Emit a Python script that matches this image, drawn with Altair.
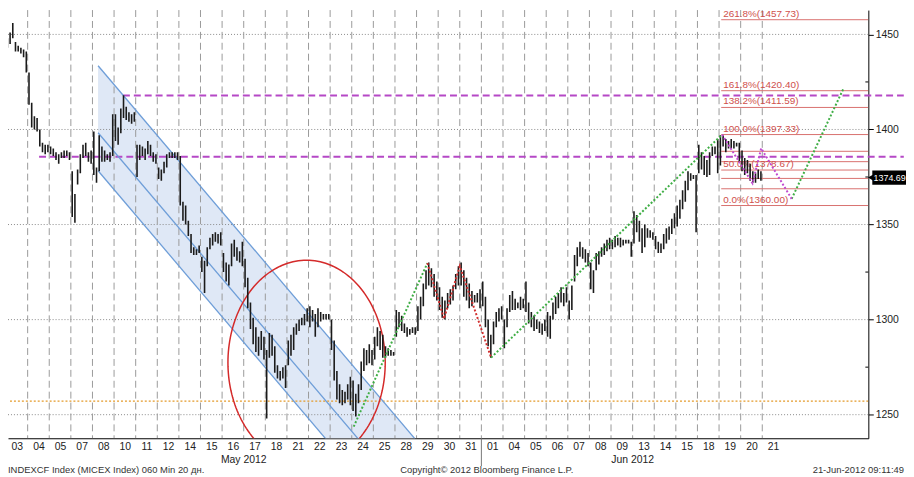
import math
import altair as alt
import pandas as pd

FONT = "Liberation Sans"

# ---------------- data ----------------
day_labels = ["03", "04", "05", "07", "08", "10", "11", "12", "14", "15", "16", "17", "18",
              "21", "22", "23", "24", "25", "28", "29", "30", "31",
              "01", "04", "05", "06", "07", "08", "09", "13", "14", "15", "18", "19", "20", "21"]
bars_per_day = 8

bar_low = [
    1443, 1445, 1448, 1441, 1441, 1440, 1438, 1430,   # May 03
    1413, 1401, 1400, 1399, 1391, 1388, 1387, 1388,   # May 04
    1387, 1386, 1384, 1382, 1385, 1385, 1386, 1384,   # May 05
    1354, 1351, 1371, 1377, 1385, 1386, 1383, 1382,   # May 07
    1376, 1372, 1378, 1383, 1383, 1384, 1383, 1386,   # May 08
    1394, 1392, 1398, 1406, 1405, 1404, 1403, 1404,   # May 10
    1375, 1384, 1386, 1384, 1387, 1386, 1383, 1382,   # May 11
    1374, 1373, 1377, 1380, 1385, 1385, 1385, 1384,   # May 12
    1360, 1352, 1350, 1344, 1335, 1334, 1334, 1335,   # May 14
    1325, 1314, 1328, 1337, 1339, 1341, 1340, 1339,   # May 15
    1325, 1320, 1318, 1328, 1333, 1331, 1330, 1328,   # May 16
    1317, 1306, 1295, 1287, 1283, 1281, 1284, 1279,   # May 17
    1248, 1280, 1281, 1272, 1269, 1268, 1269, 1264,   # May 18
    1276, 1281, 1284, 1292, 1294, 1297, 1297, 1299,   # May 21
    1296, 1299, 1291, 1296, 1299, 1300, 1300, 1300,   # May 22
    1284, 1268, 1258, 1256, 1255, 1256, 1258, 1255,   # May 23
    1252, 1249, 1256, 1263, 1273, 1276, 1277, 1276,   # May 24
    1279, 1286, 1284, 1280, 1280, 1281, 1281, 1281,   # May 25
    1291, 1296, 1294, 1293, 1291, 1292, 1293, 1292,   # May 28
    1294, 1300, 1307, 1316, 1318, 1317, 1312, 1310,   # May 29
    1305, 1301, 1300, 1306, 1308, 1310, 1316, 1318,   # May 30
    1318, 1312, 1310, 1306, 1307, 1309, 1309, 1306,   # May 31
    1307, 1296, 1286, 1280, 1287, 1296, 1299, 1300,   # Jun 01
    1285, 1296, 1304, 1305, 1305, 1306, 1305, 1306,   # Jun 04
    1304, 1298, 1296, 1294, 1295, 1293, 1292, 1294,   # Jun 05
    1291, 1290, 1300, 1303, 1306, 1309, 1307, 1309,   # Jun 06
    1300, 1305, 1320, 1328, 1333, 1332, 1330, 1328,   # Jun 07
    1316, 1314, 1326, 1329, 1333, 1334, 1336, 1337,   # Jun 08
    1337, 1338, 1339, 1338, 1339, 1340, 1340, 1333,   # Jun 09
    1340, 1346, 1341, 1335, 1338, 1343, 1343, 1342,   # Jun 13
    1337, 1335, 1335, 1337, 1340, 1342, 1345, 1348,   # Jun 14
    1349, 1353, 1358, 1362, 1368, 1373, 1374, 1346,   # Jun 15
    1377, 1379, 1376, 1375, 1376, 1386, 1387, 1377,   # Jun 18
    1381, 1391, 1388, 1390, 1390, 1390, 1391, 1383,   # Jun 19
    1378, 1376, 1377, 1373, 1372, 1372, 1374, 1373,   # Jun 20
]
bar_high = [
    1448, 1451, 1456, 1446, 1444, 1443, 1442, 1441,   # May 03
    1430, 1414, 1407, 1406, 1400, 1393, 1392, 1392,   # May 04
    1391, 1390, 1388, 1387, 1388, 1389, 1389, 1388,   # May 05
    1378, 1366, 1379, 1387, 1392, 1393, 1388, 1389,   # May 07
    1399, 1380, 1397, 1391, 1389, 1387, 1388, 1408,   # May 08
    1408, 1401, 1411, 1418, 1412, 1409, 1408, 1409,   # May 10
    1392, 1392, 1391, 1390, 1394, 1392, 1388, 1387,   # May 11
    1380, 1379, 1383, 1387, 1388, 1388, 1388, 1388,   # May 12
    1386, 1362, 1360, 1352, 1345, 1338, 1337, 1339,   # May 14
    1333, 1331, 1338, 1343, 1345, 1346, 1345, 1346,   # May 15
    1335, 1330, 1329, 1340, 1342, 1338, 1336, 1341,   # May 16
    1332, 1322, 1309, 1301, 1296, 1291, 1294, 1291,   # May 17
    1284, 1293, 1292, 1286, 1276, 1273, 1275, 1276,   # May 18
    1289, 1292, 1296, 1298, 1300, 1301, 1303, 1306,   # May 21
    1307, 1305, 1303, 1306, 1304, 1303, 1303, 1303,   # May 22
    1300, 1289, 1273, 1266, 1263, 1262, 1266, 1270,   # May 23
    1268, 1261, 1266, 1278, 1285, 1284, 1287, 1284,   # May 24
    1291, 1296, 1294, 1292, 1286, 1285, 1284, 1283,   # May 25
    1305, 1304, 1302, 1298, 1296, 1295, 1296, 1296,   # May 28
    1307, 1312, 1319, 1326, 1330, 1327, 1324, 1320,   # May 29
    1317, 1312, 1310, 1314, 1316, 1318, 1324, 1328,   # May 30
    1330, 1326, 1322, 1319, 1315, 1313, 1314, 1316,   # May 31
    1320, 1312, 1300, 1292, 1299, 1304, 1306, 1307,   # Jun 01
    1300, 1306, 1313, 1315, 1311, 1309, 1312, 1311,   # Jun 04
    1320, 1309, 1304, 1302, 1300, 1299, 1298, 1300,   # Jun 05
    1304, 1302, 1309, 1312, 1314, 1317, 1314, 1317,   # Jun 06
    1310, 1318, 1334, 1338, 1341, 1338, 1337, 1335,   # Jun 07
    1330, 1326, 1335, 1336, 1338, 1340, 1342, 1343,   # Jun 08
    1342, 1344, 1343, 1343, 1342, 1342, 1342, 1341,   # Jun 09
    1357, 1355, 1352, 1348, 1350, 1348, 1347, 1346,   # Jun 13
    1344, 1341, 1340, 1345, 1348, 1349, 1353, 1356,   # Jun 14
    1360, 1363, 1368, 1373, 1378, 1377, 1376, 1376,   # Jun 15
    1392, 1388, 1386, 1384, 1388, 1391, 1391, 1395,   # Jun 18
    1397, 1397, 1395, 1394, 1395, 1394, 1393, 1393,   # Jun 19
    1389, 1385, 1384, 1382, 1378, 1377, 1379, 1378,   # Jun 20
]
last_price = 1374.69

y_ticks = [1250, 1300, 1350, 1400, 1450]
y_minor = [1275, 1325, 1375, 1425]

# Fibonacci levels (0% = 1360.00, 100% = 1397.33)
fib_values = [1360.00, 1368.81, 1374.26, 1378.67, 1383.07, 1388.52, 1397.33, 1411.59, 1420.40, 1457.73]
fib_labels = ["0.0%(1360.00)", "", "", "50.0%(1378.67)", "", "", "100.0%(1397.33)",
              "138.2%(1411.59)", "161.8%(1420.40)", "261.8%(1457.73)"]
fib_start = 33.1

# horizontal annotation lines
purple_levels = [1417.9, 1385.7]
purple_starts = [5.41, 1.53]
purple_end = 41.55
orange_level = 1257.1

# descending channel (x in trading days, y in index points)
channel_t = [4.26, 18.95]
channel_upper = [1433.5, 1237.0]
channel_mid = [1398.3, 1201.8]
channel_lower = [1378.3, 1181.7]

# dotted pattern lines
green_t = [[16.09, 19.50], [22.45, 33.14], [36.36, 38.77]]
green_v = [[1243.7, 1329.7], [1280.0, 1397.3], [1363.5, 1421.8]]
red_t = [19.50, 20.27, 21.00, 22.45]
red_v = [1329.7, 1300.5, 1328.1, 1280.0]
magenta_t = [33.14, 34.55, 34.95, 36.36]
magenta_v = [1397.3, 1371.7, 1390.1, 1363.5]

# red ellipse: centre and radii
ell_center = (13.91, 1277.4)
ell_radius = (3.64, 53.8)

month_labels = ["May 2012", "Jun 2012"]
month_pos = [11.0, 29.0]
month_split = 22.0

footer_left = "INDEXCF Index (MICEX Index) 060 Min 20 дн."
footer_mid = "Copyright© 2012 Bloomberg Finance L.P."
footer_right = "21-Jun-2012 09:11:49"

# ---------------- scales / frames ----------------
T0, T1 = 0.0909, 39.909
V0, V1 = 1237.6, 1462.8
W, H = 868, 432
xs = alt.Scale(domain=[T0, T1], nice=False, zero=False)
ys = alt.Scale(domain=[V0, V1], nice=False, zero=False)

label_array = "[" + ",".join(f"'{s}'" for s in day_labels) + "]"
x_axis = alt.Axis(values=[d + 0.5 for d in range(len(day_labels))],
                  labelExpr=f"{label_array}[floor(datum.value)]",
                  orient="bottom", domain=True, domainColor="#000", domainWidth=1,
                  ticks=False, grid=False, labelFont=FONT, labelFontSize=10.5,
                  labelColor="#222", labelPadding=3, labelFlush=False,
                  labelOverlap=False, title=None)
y_axis = alt.Axis(orient="right", values=y_ticks, format="d", domain=True, domainColor="#000",
                  ticks=True, tickColor="#000", tickSize=5, grid=False,
                  labelFont=FONT, labelFontSize=10.5, labelColor="#222",
                  labelPadding=2, labelFlush=False, title=None)


def X(field="t"):
    return alt.X(f"{field}:Q", scale=xs, axis=x_axis)


def Y(field="v"):
    return alt.Y(f"{field}:Q", scale=ys, axis=y_axis)


bars_df = pd.DataFrame({
    "t": [d + (k + 0.5) / bars_per_day for d in range(len(bar_low) // bars_per_day) for k in range(bars_per_day)],
    "low": bar_low, "high": bar_high})

# channel shading
chan_df = pd.DataFrame({"t": channel_t, "up": channel_upper, "mid": channel_mid, "lo": channel_lower})
chan_fill = alt.Chart(chan_df).mark_area(color="#dfe8f6", opacity=1, clip=True).encode(
    x=X(), y=Y("lo"), y2="up:Q")

# grid
hgrid = alt.Chart(pd.DataFrame({"v": y_ticks})).mark_rule(
    color="#8a8a8a", strokeDash=[1, 2], strokeWidth=1, clip=True).encode(y=Y())
vgrid = alt.Chart(pd.DataFrame({"t": list(range(1, len(day_labels)))})).mark_rule(
    color="#9a9a9a", strokeDash=[7, 4], strokeWidth=1, clip=True).encode(x=X())

orange = alt.Chart(pd.DataFrame({"v": [orange_level]})).mark_rule(
    color="#e49a2a", strokeDash=[2, 2], strokeWidth=1.4, clip=True).encode(y=Y())

fib_df = pd.DataFrame({"v": fib_values, "label": fib_labels, "t": [fib_start] * len(fib_values),
                       "t2": [T1] * len(fib_values)})
fib_lines = alt.Chart(fib_df).mark_rule(color="#d9706e", strokeWidth=1, clip=True).encode(
    x=X(), x2="t2:Q", y=Y())
fib_text = alt.Chart(fib_df[fib_df["label"] != ""]).mark_text(
    align="left", baseline="bottom", dx=2, dy=-1, font=FONT, fontSize=10,
    color="#cf4f4c").encode(x=X(), y=Y(), text="label:N")

purple_df = pd.DataFrame({"v": purple_levels, "t": purple_starts, "t2": [purple_end] * 2})
purple = alt.Chart(purple_df).mark_rule(color="#b548c6", strokeDash=[7, 4], strokeWidth=2,
                                        clip=False).encode(x=X(), x2="t2:Q", y=Y())

chan_lines = [alt.Chart(chan_df).mark_line(color="#6e9ed8", strokeWidth=1.3, clip=True).encode(x=X(), y=Y(f))
              for f in ["up", "mid", "lo"]]

ang = [2 * math.pi * i / 180 for i in range(181)]
ell_df = pd.DataFrame({"i": list(range(181)),
                       "t": [ell_center[0] + ell_radius[0] * math.cos(a) for a in ang],
                       "v": [ell_center[1] + ell_radius[1] * math.sin(a) for a in ang]})
ellipse = alt.Chart(ell_df).mark_line(color="#d42a2a", strokeWidth=1.5, clip=True).encode(
    x=X(), y=Y(), order="i:Q")

bars = alt.Chart(bars_df).mark_rule(color="#1a1a1a", strokeWidth=1.6, clip=True).encode(
    x=X(), y=Y("low"), y2="high:Q")


def poly(ts, vs, color):
    df = pd.DataFrame({"i": list(range(len(ts))), "t": ts, "v": vs})
    return alt.Chart(df).mark_line(color=color, strokeDash=[2, 2], strokeWidth=2, clip=True).encode(
        x=X(), y=Y(), order="i:Q")


greens = [poly(a, b, "#3fae45") for a, b in zip(green_t, green_v)]
red_m = poly(red_t, red_v, "#d23030")
mag = poly(magenta_t, magenta_v, "#c04ad0")

minor = alt.Chart(pd.DataFrame({"v": y_minor})).mark_rule(color="#000").encode(
    x=alt.value(W - 3), x2=alt.value(W), y=Y())

lp_df = pd.DataFrame({"v": [last_price], "top": [last_price + 3.7], "bot": [last_price - 3.7],
                      "label": [f"{last_price:.2f}"]})
lp_box = alt.Chart(lp_df).mark_rect(color="#000", clip=False).encode(
    x=alt.value(W + 4), x2=alt.value(W + 38), y=Y("top"), y2="bot:Q")
lp_tri = alt.Chart(lp_df).mark_point(shape="triangle-left", filled=True, color="#000", size=60,
                                     opacity=1, clip=False).encode(x=alt.value(W + 3), y=Y())
lp_txt = alt.Chart(lp_df).mark_text(color="#fff", font=FONT, fontSize=9, align="center",
                                    baseline="middle", clip=False).encode(
    x=alt.value(W + 21.5), y=Y(), text="label:N")

month_df = pd.DataFrame({"t": month_pos, "label": month_labels})
months = alt.Chart(month_df).mark_text(font=FONT, fontSize=10.5, color="#222", baseline="middle",
                                       clip=False).encode(x=X(), y=alt.value(H + 22), text="label:N")
split = alt.Chart(pd.DataFrame({"t": [month_split]})).mark_rule(color="#777", clip=False).encode(
    x=X(), y=alt.value(H), y2=alt.value(H + 28))


def footer(text, px, align):
    return alt.Chart(pd.DataFrame({"label": [text]})).mark_text(
        font=FONT, fontSize=9.5, color="#333", align=align, baseline="middle").encode(
        x=alt.value(px), y=alt.value(H + 32), text="label:N")


foot = [footer(footer_left, 0, "left"), footer(footer_mid, 483, "center"),
        footer(footer_right, W + 36, "right")]

chart = alt.layer(
    chan_fill, hgrid, vgrid, orange, fib_lines, fib_text, purple, *chan_lines, ellipse,
    bars, *greens, red_m, mag, minor, lp_box, lp_tri, lp_txt, months, split, *foot
).properties(
    width=W, height=H,
    padding={"left": 0, "top": 0, "right": 38, "bottom": 37},
    autosize=alt.AutoSizeParams(type="none"),
    background="#ffffff",
).configure_view(stroke=None)

chart.save("out.html", embed_options={"renderer": "svg", "actions": False})
